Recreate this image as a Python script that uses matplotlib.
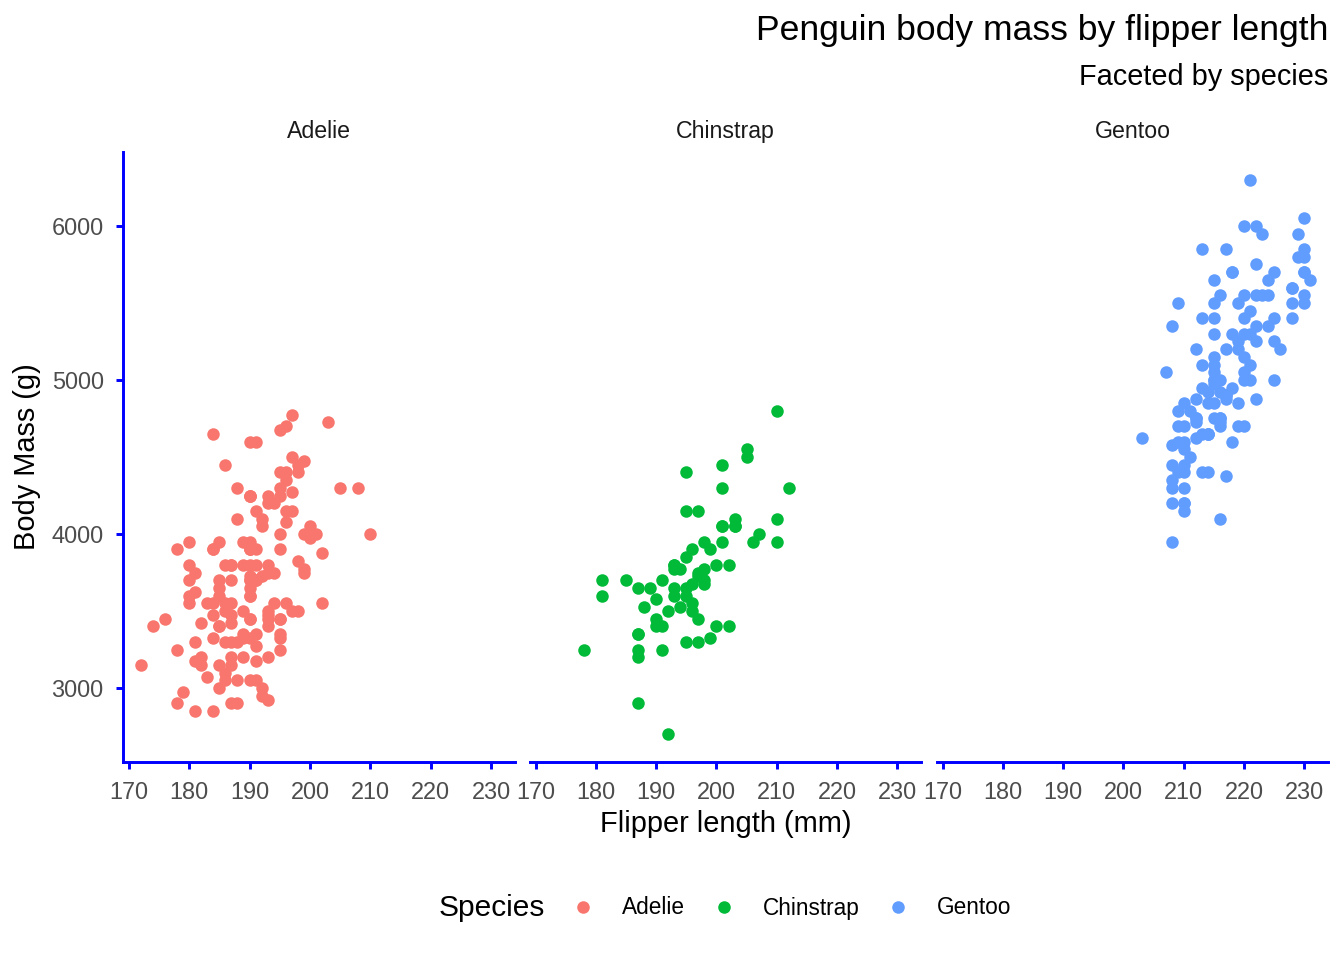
import matplotlib
matplotlib.use("Agg")
import matplotlib.pyplot as plt
from matplotlib.lines import Line2D

plt.rcParams['font.family'] = ['Liberation Sans', 'DejaVu Sans']

species = ['Adelie', 'Chinstrap', 'Gentoo']
colors = ['#F8766D', '#00BA38', '#619CFF']

adelie_flipper = [181, 186, 195, 193, 190, 181, 195, 193, 190, 186, 180, 182, 191, 198, 185, 195, 197, 184, 194, 174,
                  180, 189, 185, 180, 187, 183, 187, 172, 180, 178, 178, 188, 184, 195, 196, 190, 180, 181, 184, 182,
                  195, 186, 196, 185, 190, 182, 179, 190, 191, 186, 188, 190, 200, 187, 191, 186, 193, 181, 194, 185,
                  195, 185, 192, 184, 192, 195, 188, 190, 198, 190, 190, 196, 197, 190, 195, 191, 184, 187, 195, 189,
                  196, 187, 193, 191, 194, 190, 189, 189, 190, 202, 205, 185, 186, 187, 208, 190, 196, 178, 192, 192,
                  203, 183, 190, 193, 184, 199, 190, 181, 197, 198, 191, 193, 197, 191, 196, 188, 199, 189, 189, 187,
                  198, 176, 202, 186, 199, 191, 195, 191, 210, 190, 197, 193, 199, 187, 190, 191, 200, 185, 193, 193,
                  187, 188, 190, 192, 185, 190, 184, 195, 193, 187, 201]
adelie_mass = [3750, 3800, 3250, 3450, 3650, 3625, 4675, 3475, 4250, 3300, 3700, 3200, 3800, 4400, 3700, 3450, 4500, 3325, 4200, 3400,
               3600, 3800, 3950, 3800, 3800, 3550, 3200, 3150, 3950, 3250, 3900, 3300, 3900, 3325, 4150, 3950, 3550, 3300, 4650, 3150,
               3900, 3100, 4400, 3000, 4600, 3425, 2975, 3450, 4150, 3500, 4300, 3450, 4050, 2900, 3700, 3550, 3800, 2850, 3750, 3150,
               4400, 3600, 4050, 2850, 2950, 3350, 4100, 3050, 4450, 3600, 3900, 3550, 4150, 3700, 4250, 3700, 3900, 3550, 4000, 3200,
               4700, 3800, 4200, 3350, 3550, 3800, 3500, 3950, 3600, 3550, 4300, 3400, 4450, 3300, 4300, 3700, 4350, 2900, 4100, 3725,
               4725, 3075, 4250, 2925, 3550, 3750, 3900, 3175, 4775, 3825, 4600, 3200, 4275, 3900, 4075, 2900, 3775, 3350, 3325, 3150,
               3500, 3450, 3875, 3050, 4000, 3275, 4300, 3050, 4000, 3325, 3500, 3500, 4475, 3425, 3900, 3175, 3975, 3400, 4250, 3400,
               3475, 3050, 3725, 3000, 3650, 4250, 3475, 3450, 3750, 3700, 4000]

chinstrap_flipper = [192, 196, 193, 188, 197, 198, 178, 197, 195, 198, 193, 194, 185, 201, 190, 201, 197, 181, 190, 195,
                     181, 191, 187, 193, 195, 197, 200, 200, 191, 205, 187, 201, 187, 203, 195, 199, 195, 210, 192, 205,
                     210, 187, 196, 196, 196, 201, 190, 212, 187, 198, 199, 201, 193, 203, 187, 197, 191, 203, 202, 194,
                     206, 189, 195, 207, 202, 193, 210, 198]
chinstrap_mass = [3500, 3900, 3650, 3525, 3725, 3950, 3250, 3750, 4150, 3700, 3800, 3775, 3700, 4050, 3575, 4050, 3300, 3700, 3450, 4400,
                  3600, 3400, 2900, 3800, 3300, 4150, 3400, 3800, 3700, 4550, 3200, 4300, 3350, 4100, 3600, 3900, 3850, 4800, 2700, 4500,
                  3950, 3650, 3550, 3500, 3675, 4450, 3400, 4300, 3250, 3675, 3325, 3950, 3600, 4050, 3350, 3450, 3250, 4050, 3800, 3525,
                  3950, 3650, 3650, 4000, 3400, 3775, 4100, 3775]

gentoo_flipper = [211, 230, 210, 218, 215, 210, 211, 219, 209, 215, 214, 216, 214, 213, 210, 217, 210, 221, 209, 222,
                  218, 215, 213, 215, 215, 215, 216, 215, 210, 220, 222, 209, 207, 230, 220, 220, 213, 219, 208, 208,
                  208, 225, 210, 216, 222, 217, 210, 225, 213, 215, 210, 220, 210, 225, 217, 220, 208, 220, 208, 224,
                  208, 221, 214, 231, 219, 230, 214, 229, 220, 223, 216, 221, 221, 217, 216, 230, 209, 220, 215, 223,
                  212, 221, 212, 224, 212, 228, 218, 218, 212, 230, 218, 228, 212, 224, 214, 226, 216, 222, 203, 225,
                  219, 228, 215, 228, 216, 215, 210, 219, 208, 209, 216, 229, 213, 230, 217, 230, 217, 222, 214, 215,
                  222, 212, 213]
gentoo_mass = [4500, 5700, 4450, 5700, 5400, 4550, 4800, 5200, 4400, 5150, 4650, 5550, 4650, 5850, 4200, 5850, 4150, 6300, 4800, 5350,
               5700, 5000, 4400, 5050, 5000, 5100, 4100, 5650, 4600, 5550, 5250, 4700, 5050, 6050, 5150, 5400, 4950, 5250, 4350, 5350,
               3950, 5700, 4300, 4750, 5550, 4900, 4200, 5400, 5100, 5300, 4850, 5300, 4400, 5000, 4900, 5050, 4300, 5000, 4450, 5550,
               4200, 5300, 4400, 5650, 4700, 5700, 4650, 5800, 4700, 5550, 4750, 5000, 5100, 5200, 4700, 5800, 4600, 6000, 4750, 5950,
               4625, 5450, 4725, 5350, 4750, 5600, 4600, 5300, 4875, 5550, 4950, 5400, 4750, 5650, 4850, 5200, 4925, 4875, 4625, 5250,
               4850, 5600, 4975, 5500, 4725, 5500, 4700, 5500, 4575, 5500, 5000, 5950, 4650, 5500, 4375, 5850, 4875, 6000, 4925, 4850,
               5750, 5200, 5400]

x_ticks = [170, 180, 190, 200, 210, 220, 230]
y_ticks = [3000, 4000, 5000, 6000]

flippers = [adelie_flipper, chinstrap_flipper, gentoo_flipper]
masses = [adelie_mass, chinstrap_mass, gentoo_mass]

W, H = 1344, 960
fig = plt.figure(figsize=(7, 5), dpi=192)

# shared limits with ggplot-style 5% expansion
all_x = adelie_flipper + chinstrap_flipper + gentoo_flipper
all_y = adelie_mass + chinstrap_mass + gentoo_mass
xpad = (max(all_x) - min(all_x)) * 0.05
ypad = (max(all_y) - min(all_y)) * 0.05
xlim = (min(all_x) - xpad, max(all_x) + xpad)
ylim = (min(all_y) - ypad, max(all_y) + ypad)

panel_px = [(123, 515), (530, 921), (937, 1328)]
top_px, bot_px = 152, 762
blue = '#0000FF'

for i, (l, r) in enumerate(panel_px):
    ax = fig.add_axes([l / W, 1 - bot_px / H, (r - l) / W, (bot_px - top_px) / H])
    ax.scatter(flippers[i], masses[i], s=22, color=colors[i], linewidths=0, zorder=3)
    ax.set_xlim(xlim)
    ax.set_ylim(ylim)
    ax.set_xticks(x_ticks)
    ax.set_yticks(y_ticks)
    for side in ['top', 'right']:
        ax.spines[side].set_visible(False)
    ax.spines['bottom'].set_color(blue)
    ax.spines['bottom'].set_linewidth(1.1)
    ax.spines['left'].set_color(blue)
    ax.spines['left'].set_linewidth(1.1)
    ax.tick_params(axis='both', colors=blue, width=1.1, length=2.75, pad=4.5,
                   labelsize=8.8, labelcolor='#4D4D4D')
    if i > 0:
        ax.spines['left'].set_visible(False)
        ax.tick_params(axis='y', left=False, labelleft=False)
    fig.text((l + r) / 2 / W, 1 - 138 / H, species[i], ha='center', va='baseline',
             fontsize=8.7, color='#1A1A1A')

fig.text(1328 / W, 1 - 40 / H, 'Penguin body mass by flipper length', ha='right', va='baseline',
         fontsize=13.3)
fig.text(1328 / W, 1 - 85 / H, 'Faceted by species', ha='right', va='baseline', fontsize=10.85)
fig.text(726 / W, 1 - 824 / H, 'Flipper length (mm)', ha='center', va='center', fontsize=10.9)
fig.text(27 / W, 1 - 457 / H, 'Body Mass (g)', ha='center', va='center', rotation=90, fontsize=10.9)

# legend along the bottom
fig.text(545 / W, 1 - 908 / H, 'Species', ha='right', va='center', fontsize=11.2)
handles = [Line2D([], [], marker='o', linestyle='none', markersize=4.7, markeredgewidth=0,
                  color=c) for c in colors]
fig.legend(handles, species, loc='center left', bbox_to_anchor=(572 / W, 1 - 908 / H),
           ncol=3, frameon=False, fontsize=8.5, handlelength=1.0, handletextpad=1.22,
           columnspacing=1.2, borderpad=0, borderaxespad=0)

fig.savefig('out.png', dpi=192, facecolor='white')
